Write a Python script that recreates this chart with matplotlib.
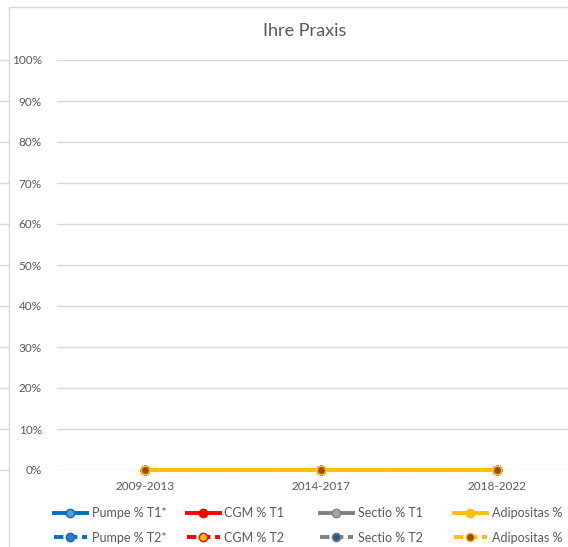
"""Liniendiagramm 'Ihre Praxis' nachbauen."""

import matplotlib

matplotlib.use("Agg")
import matplotlib.pyplot as plt
from matplotlib.lines import Line2D
from matplotlib.patches import Rectangle
from matplotlib.ticker import PercentFormatter
from matplotlib.transforms import blended_transform_factory

plt.rcParams["font.family"] = ["Lato", "DejaVu Sans"]

# Daten
categories = ["2009-2013", "2014-2017", "2018-2022"]
pumpe_t1 = [0.0, 0.0, 0.0]
pumpe_t2 = [0.0, 0.0, 0.0]
cgm_t1 = [0.0, 0.0, 0.0]
cgm_t2 = [0.0, 0.0, 0.0]
sectio_t1 = [0.0, 0.0, 0.0]
sectio_t2 = [0.0, 0.0, 0.0]
adipositas_t1 = [0.0, 0.0, 0.0]
adipositas_t2 = [0.0, 0.0, 0.0]

series_labels = [
    "Pumpe % T1*", "Pumpe % T2*",
    "CGM % T1", "CGM % T2",
    "Sectio % T1", "Sectio % T2",
    "Adipositas %", "Adipositas %",
]
series_values = [
    pumpe_t1, pumpe_t2,
    cgm_t1, cgm_t2,
    sectio_t1, sectio_t2,
    adipositas_t1, adipositas_t2,
]

# Stil: (Linienfarbe, Markerfuellung, Markerrand, gestrichelt)
styles = [
    ("#0070C0", "#5B9BD5", "#0070C0", False),
    ("#0070C0", "#4472C4", "#0070C0", True),
    ("#FF0000", "#FF0000", "#FF0000", False),
    ("#FF0000", "#FFC000", "#FF0000", True),
    ("#808080", "#A5A5A5", "#808080", False),
    ("#808080", "#255E91", "#808080", True),
    ("#FFC000", "#FFC000", "#FFC000", False),
    ("#FFC000", "#9E480E", "#FFC000", True),
]

TEXT = "#595959"
GRID = "#D9D9D9"
W, H = 568, 547

fig = plt.figure(figsize=(W / 100, H / 100), dpi=100)
ax = fig.add_axes([57 / W, 77 / H, 528 / W, 410 / H])

x = list(range(len(categories)))
handles = []
for values, label, (color, face, edge, dashed) in zip(series_values, series_labels, styles):
    (line,) = ax.plot(
        x, values, color=color, linewidth=2.8,
        marker="o", markersize=6, markerfacecolor=face,
        markeredgecolor=edge, markeredgewidth=1,
        label=label, clip_on=False, zorder=3,
    )
    if dashed:
        line.set_dashes((2.4, 1.2))
    handles.append(line)

ax.set_xlim(-0.5, len(categories) - 0.5)
ax.set_ylim(0, 1)
ax.set_xticks(x)
ax.set_xticklabels(categories)
ax.set_yticks([i / 10 for i in range(11)])
ax.yaxis.set_major_formatter(PercentFormatter(1.0, decimals=0))
ax.tick_params(length=0, labelsize=8.5, labelcolor=TEXT)
ax.tick_params(axis="y", pad=11)
ax.tick_params(axis="x", pad=8)
ax.grid(axis="y", color=GRID, linewidth=1)
ax.set_axisbelow(True)
for spine in ax.spines.values():
    spine.set_visible(False)

# Titel
fig.text(305 / W, 1 - 31 / H, "Ihre Praxis", ha="center", va="center",
         fontsize=13, color=TEXT)

# Rahmen des Diagramms und Gitterreste des Nachbardiagramms
fig.add_artist(Rectangle((9 / W, -0.1), 1.2, (H - 7) / H + 0.1,
                         transform=fig.transFigure, fill=False,
                         edgecolor=GRID, linewidth=1))
trans = blended_transform_factory(fig.transFigure, ax.transData)
for tick in ax.get_yticks():
    fig.add_artist(Line2D([0, 8 / W], [tick, tick], transform=trans,
                          color=GRID, linewidth=1))

# Legende: eine Spalte pro Kennzahl
column_x = [54, 187, 320, 454]
for col, left in enumerate(column_x):
    pair = handles[2 * col:2 * col + 2]
    fig.legend(
        handles=pair, labels=[h.get_label() for h in pair],
        loc="upper left", bbox_to_anchor=(left / W, 1 - 507 / H),
        frameon=False, borderpad=0, borderaxespad=0,
        handlelength=2.6, handletextpad=0.4, labelspacing=1.0,
        fontsize=9, labelcolor=TEXT,
    )

fig.savefig("out.png", dpi=100)
